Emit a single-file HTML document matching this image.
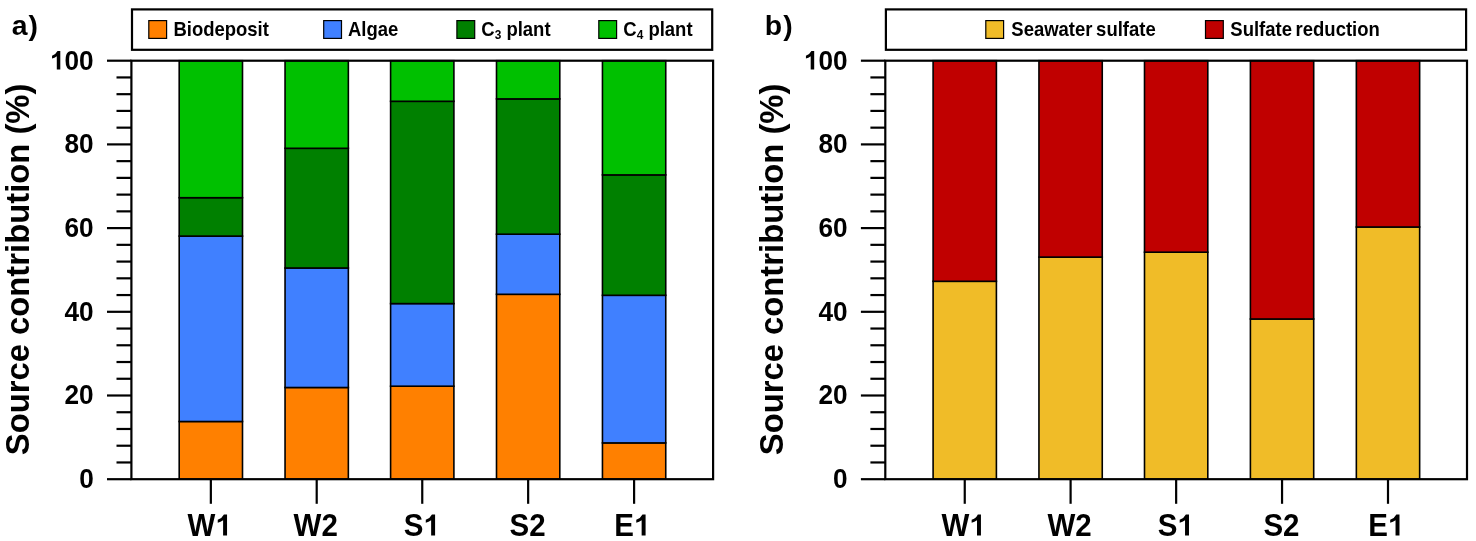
<!DOCTYPE html>
<html><head><meta charset="utf-8"><title>Source contribution</title>
<style>
html,body{margin:0;padding:0;background:#fff;}
body{width:1476px;height:541px;overflow:hidden;}
svg{display:block;filter:blur(0.3px);}
path{fill:#000;}
text{font-family:"Liberation Sans",sans-serif;font-weight:bold;fill:#000;}
</style></head>
<body>
<svg width="1476" height="541" viewBox="0 0 1476 541">
<rect x="0" y="0" width="1476" height="541" fill="#fff"/>
<rect x="179.2" y="421.5" width="63.3" height="57.7" fill="#FF8000" stroke="#000" stroke-width="1.6"/>
<rect x="179.2" y="236.1" width="63.3" height="185.4" fill="#4080FF" stroke="#000" stroke-width="1.6"/>
<rect x="179.2" y="197.7" width="63.3" height="38.4" fill="#008000" stroke="#000" stroke-width="1.6"/>
<rect x="179.2" y="60.7" width="63.3" height="137" fill="#00C000" stroke="#000" stroke-width="1.6"/>
<rect x="285.05" y="387.5" width="63.3" height="91.7" fill="#FF8000" stroke="#000" stroke-width="1.6"/>
<rect x="285.05" y="268" width="63.3" height="119.5" fill="#4080FF" stroke="#000" stroke-width="1.6"/>
<rect x="285.05" y="148.3" width="63.3" height="119.7" fill="#008000" stroke="#000" stroke-width="1.6"/>
<rect x="285.05" y="60.7" width="63.3" height="87.6" fill="#00C000" stroke="#000" stroke-width="1.6"/>
<rect x="390.6" y="386.2" width="63.3" height="93" fill="#FF8000" stroke="#000" stroke-width="1.6"/>
<rect x="390.6" y="303.6" width="63.3" height="82.6" fill="#4080FF" stroke="#000" stroke-width="1.6"/>
<rect x="390.6" y="101.3" width="63.3" height="202.3" fill="#008000" stroke="#000" stroke-width="1.6"/>
<rect x="390.6" y="60.7" width="63.3" height="40.6" fill="#00C000" stroke="#000" stroke-width="1.6"/>
<rect x="496.5" y="294.3" width="63.3" height="184.9" fill="#FF8000" stroke="#000" stroke-width="1.6"/>
<rect x="496.5" y="234.2" width="63.3" height="60.1" fill="#4080FF" stroke="#000" stroke-width="1.6"/>
<rect x="496.5" y="98.9" width="63.3" height="135.3" fill="#008000" stroke="#000" stroke-width="1.6"/>
<rect x="496.5" y="60.7" width="63.3" height="38.2" fill="#00C000" stroke="#000" stroke-width="1.6"/>
<rect x="602.45" y="442.9" width="63.3" height="36.3" fill="#FF8000" stroke="#000" stroke-width="1.6"/>
<rect x="602.45" y="295.3" width="63.3" height="147.6" fill="#4080FF" stroke="#000" stroke-width="1.6"/>
<rect x="602.45" y="174.9" width="63.3" height="120.4" fill="#008000" stroke="#000" stroke-width="1.6"/>
<rect x="602.45" y="60.7" width="63.3" height="114.2" fill="#00C000" stroke="#000" stroke-width="1.6"/>
<rect x="131.4" y="60.7" width="581.7" height="418.5" fill="none" stroke="#000" stroke-width="2.2"/>
<line x1="107" y1="479.2" x2="131.4" y2="479.2" stroke="#000" stroke-width="2.2"/>
<line x1="116.5" y1="462.46" x2="131.4" y2="462.46" stroke="#000" stroke-width="2.2"/>
<line x1="116.5" y1="445.72" x2="131.4" y2="445.72" stroke="#000" stroke-width="2.2"/>
<line x1="116.5" y1="428.98" x2="131.4" y2="428.98" stroke="#000" stroke-width="2.2"/>
<line x1="116.5" y1="412.24" x2="131.4" y2="412.24" stroke="#000" stroke-width="2.2"/>
<line x1="107" y1="395.5" x2="131.4" y2="395.5" stroke="#000" stroke-width="2.2"/>
<line x1="116.5" y1="378.76" x2="131.4" y2="378.76" stroke="#000" stroke-width="2.2"/>
<line x1="116.5" y1="362.02" x2="131.4" y2="362.02" stroke="#000" stroke-width="2.2"/>
<line x1="116.5" y1="345.28" x2="131.4" y2="345.28" stroke="#000" stroke-width="2.2"/>
<line x1="116.5" y1="328.54" x2="131.4" y2="328.54" stroke="#000" stroke-width="2.2"/>
<line x1="107" y1="311.8" x2="131.4" y2="311.8" stroke="#000" stroke-width="2.2"/>
<line x1="116.5" y1="295.06" x2="131.4" y2="295.06" stroke="#000" stroke-width="2.2"/>
<line x1="116.5" y1="278.32" x2="131.4" y2="278.32" stroke="#000" stroke-width="2.2"/>
<line x1="116.5" y1="261.58" x2="131.4" y2="261.58" stroke="#000" stroke-width="2.2"/>
<line x1="116.5" y1="244.84" x2="131.4" y2="244.84" stroke="#000" stroke-width="2.2"/>
<line x1="107" y1="228.1" x2="131.4" y2="228.1" stroke="#000" stroke-width="2.2"/>
<line x1="116.5" y1="211.36" x2="131.4" y2="211.36" stroke="#000" stroke-width="2.2"/>
<line x1="116.5" y1="194.62" x2="131.4" y2="194.62" stroke="#000" stroke-width="2.2"/>
<line x1="116.5" y1="177.88" x2="131.4" y2="177.88" stroke="#000" stroke-width="2.2"/>
<line x1="116.5" y1="161.14" x2="131.4" y2="161.14" stroke="#000" stroke-width="2.2"/>
<line x1="107" y1="144.4" x2="131.4" y2="144.4" stroke="#000" stroke-width="2.2"/>
<line x1="116.5" y1="127.66" x2="131.4" y2="127.66" stroke="#000" stroke-width="2.2"/>
<line x1="116.5" y1="110.92" x2="131.4" y2="110.92" stroke="#000" stroke-width="2.2"/>
<line x1="116.5" y1="94.18" x2="131.4" y2="94.18" stroke="#000" stroke-width="2.2"/>
<line x1="116.5" y1="77.44" x2="131.4" y2="77.44" stroke="#000" stroke-width="2.2"/>
<line x1="107" y1="60.7" x2="131.4" y2="60.7" stroke="#000" stroke-width="2.2"/>
<text transform="translate(79.13,488.03) scale(1,1.06)" font-size="26.2">0</text>
<text transform="translate(64.56,404.33) scale(1,1.06)" font-size="26.2">20</text>
<text transform="translate(64.56,320.63) scale(1,1.06)" font-size="26.2">40</text>
<text transform="translate(64.56,236.93) scale(1,1.06)" font-size="26.2">60</text>
<text transform="translate(64.56,153.23) scale(1,1.06)" font-size="26.2">80</text>
<path transform="translate(49.99,69.53) scale(0.01279,-0.01264)" d="M806 0L532 0L532 1060Q360 930 160 880L160 1090Q440 1180 590 1466L806 1466Z"/><text transform="translate(64.56,69.53) scale(1,1.06)" font-size="26.2">00</text>
<line x1="210.85" y1="479.2" x2="210.85" y2="503.8" stroke="#000" stroke-width="2.2"/>
<text transform="translate(187.6,535.5) scale(1,1.07)" font-size="29.5">W</text><path transform="translate(215.44,535.5) scale(0.01440,-0.01437)" d="M806 0L532 0L532 1060Q360 930 160 880L160 1090Q440 1180 590 1466L806 1466Z"/>
<line x1="316.7" y1="479.2" x2="316.7" y2="503.8" stroke="#000" stroke-width="2.2"/>
<text transform="translate(293.6,535.5) scale(1,1.07)" font-size="29.5">W2</text>
<line x1="422.25" y1="479.2" x2="422.25" y2="503.8" stroke="#000" stroke-width="2.2"/>
<text transform="translate(403.8,535.5) scale(1,1.07)" font-size="29.5">S</text><path transform="translate(423.48,535.5) scale(0.01440,-0.01437)" d="M806 0L532 0L532 1060Q360 930 160 880L160 1090Q440 1180 590 1466L806 1466Z"/>
<line x1="528.15" y1="479.2" x2="528.15" y2="503.8" stroke="#000" stroke-width="2.2"/>
<text transform="translate(509.5,535.5) scale(1,1.07)" font-size="29.5">S2</text>
<line x1="634.1" y1="479.2" x2="634.1" y2="503.8" stroke="#000" stroke-width="2.2"/>
<text transform="translate(614.3,535.5) scale(1,1.07)" font-size="29.5">E</text><path transform="translate(633.98,535.5) scale(0.01440,-0.01437)" d="M806 0L532 0L532 1060Q360 930 160 880L160 1090Q440 1180 590 1466L806 1466Z"/>
<text transform="translate(29.3,269.4) rotate(-90)" x="0" y="0" text-anchor="middle" font-size="32.8">Source contribution (%)</text>
<text transform="translate(11.8,35.4) scale(1,0.99)" font-size="28.4" letter-spacing="0.8">a)</text>
<rect x="132" y="9.4" width="580.2" height="40.4" fill="#fff" stroke="#000" stroke-width="2.2"/>
<rect x="148.8" y="20.6" width="17.8" height="17.8" fill="#FF8000" stroke="#000" stroke-width="1.2"/>
<text transform="translate(173.4,35.7) scale(1,1.045)" font-size="18.5">Biodeposit</text>
<rect x="323.7" y="20.6" width="17.8" height="17.8" fill="#4080FF" stroke="#000" stroke-width="1.2"/>
<text transform="translate(348,35.7) scale(1,1.045)" font-size="18.5">Algae</text>
<rect x="456.9" y="20.6" width="17.8" height="17.8" fill="#008000" stroke="#000" stroke-width="1.2"/>
<text transform="translate(481.3,35.7) scale(1,1.045)" font-size="18.5">C<tspan font-size="11.9" dy="3.6">3</tspan><tspan dy="-3.6"> plant</tspan></text>
<rect x="598.8" y="20.6" width="17.8" height="17.8" fill="#00C000" stroke="#000" stroke-width="1.2"/>
<text transform="translate(623.3,35.7) scale(1,1.045)" font-size="18.5">C<tspan font-size="11.9" dy="3.6">4</tspan><tspan dy="-3.6"> plant</tspan></text>
<rect x="933.1" y="281.3" width="63.3" height="197.9" fill="#F0BC28" stroke="#000" stroke-width="1.6"/>
<rect x="933.1" y="60.7" width="63.3" height="220.6" fill="#C00000" stroke="#000" stroke-width="1.6"/>
<rect x="1038.95" y="257.1" width="63.3" height="222.1" fill="#F0BC28" stroke="#000" stroke-width="1.6"/>
<rect x="1038.95" y="60.7" width="63.3" height="196.4" fill="#C00000" stroke="#000" stroke-width="1.6"/>
<rect x="1144.5" y="252.2" width="63.3" height="227" fill="#F0BC28" stroke="#000" stroke-width="1.6"/>
<rect x="1144.5" y="60.7" width="63.3" height="191.5" fill="#C00000" stroke="#000" stroke-width="1.6"/>
<rect x="1250.4" y="319" width="63.3" height="160.2" fill="#F0BC28" stroke="#000" stroke-width="1.6"/>
<rect x="1250.4" y="60.7" width="63.3" height="258.3" fill="#C00000" stroke="#000" stroke-width="1.6"/>
<rect x="1356.35" y="227" width="63.3" height="252.2" fill="#F0BC28" stroke="#000" stroke-width="1.6"/>
<rect x="1356.35" y="60.7" width="63.3" height="166.3" fill="#C00000" stroke="#000" stroke-width="1.6"/>
<rect x="885.3" y="60.7" width="581.7" height="418.5" fill="none" stroke="#000" stroke-width="2.2"/>
<line x1="860.9" y1="479.2" x2="885.3" y2="479.2" stroke="#000" stroke-width="2.2"/>
<line x1="870.4" y1="462.46" x2="885.3" y2="462.46" stroke="#000" stroke-width="2.2"/>
<line x1="870.4" y1="445.72" x2="885.3" y2="445.72" stroke="#000" stroke-width="2.2"/>
<line x1="870.4" y1="428.98" x2="885.3" y2="428.98" stroke="#000" stroke-width="2.2"/>
<line x1="870.4" y1="412.24" x2="885.3" y2="412.24" stroke="#000" stroke-width="2.2"/>
<line x1="860.9" y1="395.5" x2="885.3" y2="395.5" stroke="#000" stroke-width="2.2"/>
<line x1="870.4" y1="378.76" x2="885.3" y2="378.76" stroke="#000" stroke-width="2.2"/>
<line x1="870.4" y1="362.02" x2="885.3" y2="362.02" stroke="#000" stroke-width="2.2"/>
<line x1="870.4" y1="345.28" x2="885.3" y2="345.28" stroke="#000" stroke-width="2.2"/>
<line x1="870.4" y1="328.54" x2="885.3" y2="328.54" stroke="#000" stroke-width="2.2"/>
<line x1="860.9" y1="311.8" x2="885.3" y2="311.8" stroke="#000" stroke-width="2.2"/>
<line x1="870.4" y1="295.06" x2="885.3" y2="295.06" stroke="#000" stroke-width="2.2"/>
<line x1="870.4" y1="278.32" x2="885.3" y2="278.32" stroke="#000" stroke-width="2.2"/>
<line x1="870.4" y1="261.58" x2="885.3" y2="261.58" stroke="#000" stroke-width="2.2"/>
<line x1="870.4" y1="244.84" x2="885.3" y2="244.84" stroke="#000" stroke-width="2.2"/>
<line x1="860.9" y1="228.1" x2="885.3" y2="228.1" stroke="#000" stroke-width="2.2"/>
<line x1="870.4" y1="211.36" x2="885.3" y2="211.36" stroke="#000" stroke-width="2.2"/>
<line x1="870.4" y1="194.62" x2="885.3" y2="194.62" stroke="#000" stroke-width="2.2"/>
<line x1="870.4" y1="177.88" x2="885.3" y2="177.88" stroke="#000" stroke-width="2.2"/>
<line x1="870.4" y1="161.14" x2="885.3" y2="161.14" stroke="#000" stroke-width="2.2"/>
<line x1="860.9" y1="144.4" x2="885.3" y2="144.4" stroke="#000" stroke-width="2.2"/>
<line x1="870.4" y1="127.66" x2="885.3" y2="127.66" stroke="#000" stroke-width="2.2"/>
<line x1="870.4" y1="110.92" x2="885.3" y2="110.92" stroke="#000" stroke-width="2.2"/>
<line x1="870.4" y1="94.18" x2="885.3" y2="94.18" stroke="#000" stroke-width="2.2"/>
<line x1="870.4" y1="77.44" x2="885.3" y2="77.44" stroke="#000" stroke-width="2.2"/>
<line x1="860.9" y1="60.7" x2="885.3" y2="60.7" stroke="#000" stroke-width="2.2"/>
<text transform="translate(833.03,488.03) scale(1,1.06)" font-size="26.2">0</text>
<text transform="translate(818.46,404.33) scale(1,1.06)" font-size="26.2">20</text>
<text transform="translate(818.46,320.63) scale(1,1.06)" font-size="26.2">40</text>
<text transform="translate(818.46,236.93) scale(1,1.06)" font-size="26.2">60</text>
<text transform="translate(818.46,153.23) scale(1,1.06)" font-size="26.2">80</text>
<path transform="translate(803.89,69.53) scale(0.01279,-0.01264)" d="M806 0L532 0L532 1060Q360 930 160 880L160 1090Q440 1180 590 1466L806 1466Z"/><text transform="translate(818.46,69.53) scale(1,1.06)" font-size="26.2">00</text>
<line x1="964.75" y1="479.2" x2="964.75" y2="503.8" stroke="#000" stroke-width="2.2"/>
<text transform="translate(941.5,535.5) scale(1,1.07)" font-size="29.5">W</text><path transform="translate(969.34,535.5) scale(0.01440,-0.01437)" d="M806 0L532 0L532 1060Q360 930 160 880L160 1090Q440 1180 590 1466L806 1466Z"/>
<line x1="1070.6" y1="479.2" x2="1070.6" y2="503.8" stroke="#000" stroke-width="2.2"/>
<text transform="translate(1047.5,535.5) scale(1,1.07)" font-size="29.5">W2</text>
<line x1="1176.15" y1="479.2" x2="1176.15" y2="503.8" stroke="#000" stroke-width="2.2"/>
<text transform="translate(1157.7,535.5) scale(1,1.07)" font-size="29.5">S</text><path transform="translate(1177.38,535.5) scale(0.01440,-0.01437)" d="M806 0L532 0L532 1060Q360 930 160 880L160 1090Q440 1180 590 1466L806 1466Z"/>
<line x1="1282.05" y1="479.2" x2="1282.05" y2="503.8" stroke="#000" stroke-width="2.2"/>
<text transform="translate(1263.4,535.5) scale(1,1.07)" font-size="29.5">S2</text>
<line x1="1388" y1="479.2" x2="1388" y2="503.8" stroke="#000" stroke-width="2.2"/>
<text transform="translate(1368.2,535.5) scale(1,1.07)" font-size="29.5">E</text><path transform="translate(1387.88,535.5) scale(0.01440,-0.01437)" d="M806 0L532 0L532 1060Q360 930 160 880L160 1090Q440 1180 590 1466L806 1466Z"/>
<text transform="translate(783.2,269.4) rotate(-90)" x="0" y="0" text-anchor="middle" font-size="32.8">Source contribution (%)</text>
<text transform="translate(764.7,35.4) scale(1,0.99)" font-size="28.4" letter-spacing="1.15">b)</text>
<rect x="885.9" y="9.4" width="580.2" height="40.4" fill="#fff" stroke="#000" stroke-width="2.2"/>
<rect x="985.8" y="20.6" width="17.8" height="17.8" fill="#F0BC28" stroke="#000" stroke-width="1.2"/>
<text transform="translate(1011.3,35.7) scale(1,1.045)" font-size="18.5" word-spacing="-1.5">Seawater sulfate</text>
<rect x="1205.5" y="20.6" width="17.8" height="17.8" fill="#C00000" stroke="#000" stroke-width="1.2"/>
<text transform="translate(1230.3,35.7) scale(1,1.045)" font-size="18.5" word-spacing="-1.5">Sulfate reduction</text>
</svg>
</body></html>
